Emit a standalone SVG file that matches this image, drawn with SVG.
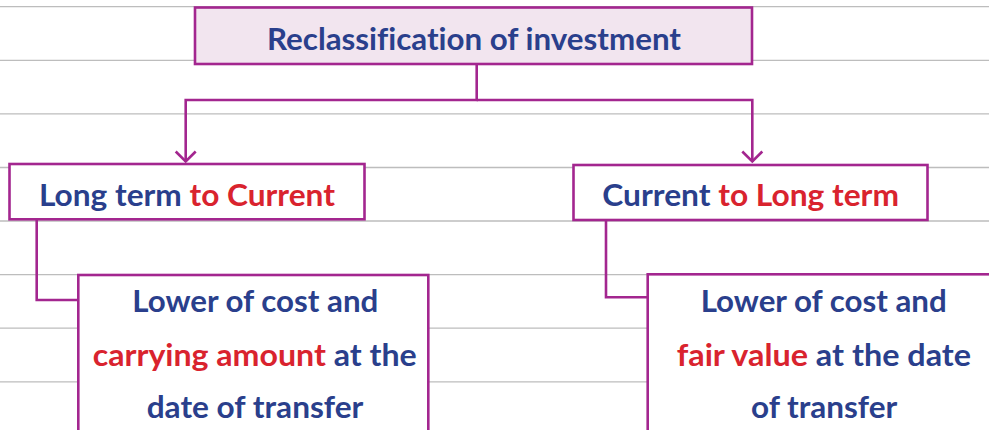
<svg xmlns="http://www.w3.org/2000/svg" width="989" height="430" viewBox="0 0 989 430">
<style>
.rule{stroke:#bdbdbd;stroke-width:1.3}
.box{fill:#ffffff;stroke:#a3268f;stroke-width:2.6}
.top{fill:#f2e5ef}
.conn{fill:none;stroke:#a3268f;stroke-width:2.6}
text{font-family:Lato,"Liberation Sans",sans-serif;font-weight:700;font-size:30.5px;fill:#2a3f8c;font-variant-ligatures:none}
.r{fill:#d9232e}
</style>
<rect width="989" height="430" fill="#ffffff"/>
<g id="rules">
<line class="rule" x1="0" y1="6.7" x2="989" y2="6.7"/>
<line class="rule" x1="0" y1="60.3" x2="989" y2="60.3"/>
<line class="rule" x1="0" y1="113.9" x2="989" y2="113.9"/>
<line class="rule" x1="0" y1="167.5" x2="989" y2="167.5"/>
<line class="rule" x1="0" y1="221" x2="989" y2="221"/>
<line class="rule" x1="0" y1="274.6" x2="989" y2="274.6"/>
<line class="rule" x1="0" y1="328.2" x2="989" y2="328.2"/>
<line class="rule" x1="0" y1="381.8" x2="989" y2="381.8"/>
</g>
<g id="connectors">
<polyline class="conn" points="476.7,64 476.7,100 185.7,100 185.7,162"/>
<polyline class="conn" points="476.7,100 752.3,100 752.3,162"/>
<polyline class="conn" points="175.7,151.5 185.7,161.5 195.7,151.5"/>
<polyline class="conn" points="742.3,151.5 752.3,161.5 762.3,151.5"/>
<polyline class="conn" points="36.7,219 36.7,300 78.3,300"/>
<polyline class="conn" points="606,220 606,297.3 647.7,297.3"/>
</g>
<g id="node-root">
<rect class="box top" x="195" y="7.5" width="557" height="56.5"/>
<text x="267" y="50" textLength="414" lengthAdjust="spacingAndGlyphs">Reclassification of investment</text>
</g>
<g id="node-lt-current">
<rect class="box" x="9.5" y="164" width="355" height="55.3"/>
<text x="39" y="205.7" textLength="296" lengthAdjust="spacingAndGlyphs">Long term <tspan class="r">to Current</tspan></text>
</g>
<g id="node-current-lt">
<rect class="box" x="573.5" y="165" width="354" height="55"/>
<text x="602.3" y="206" textLength="296.7" lengthAdjust="spacingAndGlyphs">Current <tspan class="r">to Long term</tspan></text>
</g>
<g id="node-lower-carrying">
<rect class="box" x="78.3" y="275" width="350" height="170"/>
<text x="132.3" y="312.3" textLength="246" lengthAdjust="spacingAndGlyphs">Lower of cost and</text>
<text x="92.7" y="365.7" textLength="324" lengthAdjust="spacingAndGlyphs"><tspan class="r">carrying amount</tspan> at the</text>
<text x="146.7" y="418.3" textLength="216.7" lengthAdjust="spacingAndGlyphs">date of transfer</text>
</g>
<g id="node-lower-fair">
<rect class="box" x="647.7" y="274.3" width="352" height="170"/>
<text x="700.7" y="312.3" textLength="246" lengthAdjust="spacingAndGlyphs">Lower of cost and</text>
<text x="676.7" y="365.7" textLength="294.3" lengthAdjust="spacingAndGlyphs"><tspan class="r">fair value</tspan> at the date</text>
<text x="751" y="418.3" textLength="146.3" lengthAdjust="spacingAndGlyphs">of transfer</text>
</g>
</svg>
